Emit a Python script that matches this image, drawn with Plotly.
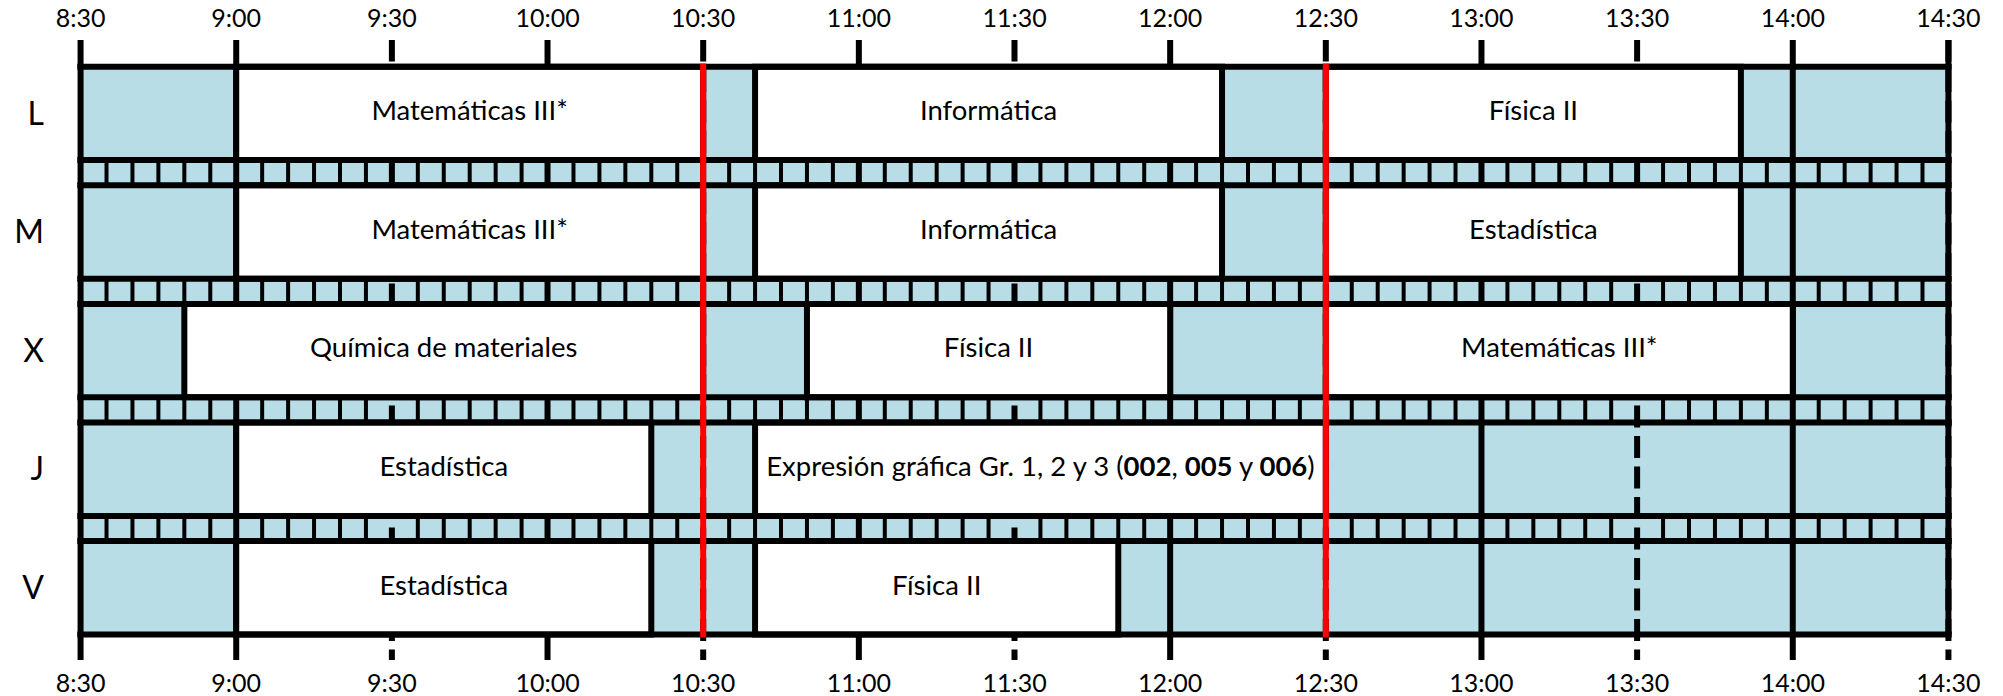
import plotly.graph_objects as go

# ---------------- data ----------------
days = ["L", "M", "X", "J", "V"]

class_day = ["L", "L", "L",
             "M", "M", "M",
             "X", "X", "X",
             "J", "J",
             "V", "V"]
class_start = ["9:00", "10:40", "12:30",
               "9:00", "10:40", "12:30",
               "8:50", "10:50", "12:30",
               "9:00", "10:40",
               "9:00", "10:40"]
class_end = ["10:30", "12:10", "13:50",
             "10:30", "12:10", "13:50",
             "10:30", "12:00", "14:00",
             "10:20", "12:30",
             "10:20", "11:50"]
class_label = ["Matemáticas III*", "Informática", "Física II",
               "Matemáticas III*", "Informática", "Estadística",
               "Química de materiales", "Física II", "Matemáticas III*",
               "Estadística",
               "Expresión gráfica Gr. 1, 2 y 3 (<b>002</b>, <b>005</b> y <b>006</b>)",
               "Estadística", "Física II"]

time_ticks = ["8:30", "9:00", "9:30", "10:00", "10:30", "11:00", "11:30",
              "12:00", "12:30", "13:00", "13:30", "14:00", "14:30"]
red_times = ["10:30", "12:30"]

# ---------------- style / geometry ----------------
BLUE = "#B8DDE7"
RED = "#FF0000"
FONT = "Lato"
ROW_H = 93.4      # row band height (line centre to line centre, px units)
GAP_H = 25.2      # strip between rows
TICK_T = 26.7     # tick zone above table
TICK_B = 25.5     # tick zone below table
LW = 6


def hrs(t):
    h, m = t.split(":")
    return int(h) + int(m) / 60.0


def row_top(i):
    return i * (ROW_H + GAP_H)


TOTAL = 5 * ROW_H + 4 * GAP_H
X0 = hrs(time_ticks[0])
X1 = hrs(time_ticks[-1])
PAD = 0.05

fig = go.Figure()

# ---------------- background + grid (below traces) ----------------
shapes = [dict(type="rect", xref="x", yref="y", x0=X0, x1=X1, y0=0, y1=TOTAL,
               fillcolor=BLUE, line=dict(width=0), layer="below")]
for t in time_ticks:
    x = hrs(t)
    minutes = int(t.split(":")[1])
    solid = (minutes == 0) or (t == time_ticks[0])
    shapes.append(dict(type="line", xref="x", yref="y", x0=x, x1=x,
                       y0=-TICK_T - 0.5, y1=TOTAL + TICK_B + 0.5,
                       line=dict(color="black", width=LW,
                                 dash="solid" if solid else "22px,8.5px"),
                       layer="below"))
# right border solid within table
shapes.append(dict(type="line", xref="x", yref="y", x0=X1, x1=X1,
                   y0=-TICK_T - 0.5, y1=TOTAL,
                   line=dict(color="black", width=LW), layer="below"))

# ---------------- class boxes ----------------
yc = [row_top(days.index(d)) + ROW_H / 2 for d in class_day]
starts = [hrs(s) for s in class_start]
durs = [hrs(e) - hrs(s) for s, e in zip(class_start, class_end)]
fig.add_trace(go.Bar(orientation="h", y=yc, x=durs, base=starts, width=ROW_H,
                     marker=dict(color="white", line=dict(color="black", width=LW)),
                     hoverinfo="skip", showlegend=False))

# ---------------- 5-minute dividers in strips ----------------
dx, dy = [], []
n5 = int(round((X1 - X0) * 12))
for i in range(4):
    y0 = row_top(i) + ROW_H
    y1 = row_top(i + 1)
    for k in range(1, n5):
        if k % 6 == 0:
            continue
        x = X0 + k / 12.0
        dx += [x, x, None]
        dy += [y0, y1, None]
fig.add_trace(go.Scatter(x=dx, y=dy, mode="lines",
                         line=dict(color="black", width=4),
                         hoverinfo="skip", showlegend=False))

# ---------------- horizontal row lines ----------------
hx, hy = [], []
ext = 0.0105
for i in range(5):
    for y in (row_top(i), row_top(i) + ROW_H):
        hx += [X0 - ext, X1 + ext, None]
        hy += [y, y, None]
fig.add_trace(go.Scatter(x=hx, y=hy, mode="lines",
                         line=dict(color="black", width=LW),
                         hoverinfo="skip", showlegend=False))

# ---------------- class labels ----------------
xc = [s + d / 2 for s, d in zip(starts, durs)]
fig.add_trace(go.Scatter(x=xc, y=yc, mode="text", text=class_label,
                         textfont=dict(family=FONT, size=27.5, color="black"),
                         hoverinfo="skip", showlegend=False))

# ---------------- red lines (top layer) ----------------
rx, ry = [], []
for t in red_times:
    rx += [hrs(t), hrs(t), None]
    ry += [-LW / 2, TOTAL + LW / 2, None]
fig.add_trace(go.Scatter(x=rx, y=ry, mode="lines", xaxis="x2", yaxis="y",
                         line=dict(color=RED, width=LW),
                         hoverinfo="skip", showlegend=False))

tickvals = [hrs(t) for t in time_ticks]
axis_common = dict(range=[X0 - PAD, X1 + PAD], tickvals=tickvals, ticktext=time_ticks,
                   showgrid=False, zeroline=False, showline=False, ticks="",
                   automargin=False,
                   tickfont=dict(family=FONT, size=25, color="black"))
fig.update_layout(
    width=2003, height=696,
    margin=dict(l=65, r=39, t=40, b=36, autoexpand=False),
    paper_bgcolor="white", plot_bgcolor="white",
    shapes=shapes,
    xaxis=dict(**axis_common, side="bottom", ticklabelstandoff=6),
    xaxis2=dict(**axis_common, side="top", overlaying="x", matches="x",
                ticklabelstandoff=7),
    yaxis=dict(range=[TOTAL + TICK_B, -TICK_T], autorange=False,
               tickvals=[row_top(i) + ROW_H / 2 for i in range(5)], ticktext=days,
               showgrid=False, zeroline=False, showline=False, ticks="",
               automargin=False,
               tickfont=dict(family=FONT, size=32, color="black"),
               ticklabelstandoff=20),
    showlegend=False,
)

fig.write_html("out.html", config={"displayModeBar": False},
               post_script="document.body.style.margin='0';document.body.style.overflow='hidden';")
